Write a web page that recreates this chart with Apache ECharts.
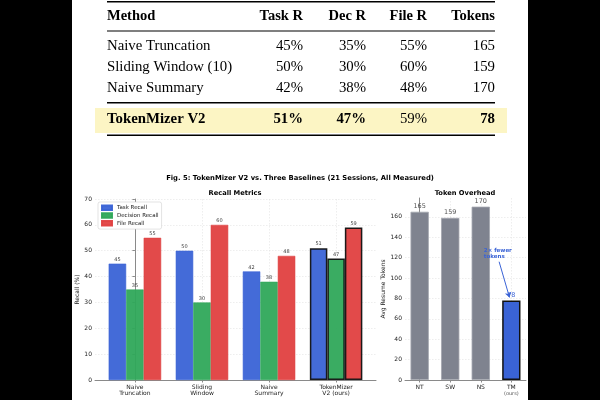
<!DOCTYPE html>
<html>
<head>
<meta charset="utf-8">
<script src="https://cdn.jsdelivr.net/npm/echarts@6/dist/echarts.min.js"></script>
<style>
  html, body { margin: 0; background: #000; }
  #chart { width: 600px; height: 400px; }
</style>
</head>
<body>
<div id="chart"></div>
<script>
  // data
  const tableHeaders = ['Method', 'Task R', 'Dec R', 'File R', 'Tokens']
  const methods = ['Naive Truncation', 'Sliding Window (10)', 'Naive Summary', 'TokenMizer V2']
  const taskRecall = [45, 50, 42, 51]
  const decisionRecall = [35, 30, 38, 47]
  const fileRecall = [55, 60, 48, 59]
  const tokens = [165, 159, 170, 78]
  const groupLabels = ['Naive\nTruncation', 'Sliding\nWindow', 'Naive\nSummary', 'TokenMizer\nV2 (ours)']
  const tokenLabels = ['NT', 'SW', 'NS', 'TM']

  const BLUE = '#3a63d6'
  const GREEN = '#2fa85a'
  const RED = '#e04040'
  const GRAY = '#7f838f'
  const SANS = 'DejaVu Sans'
  const SERIF = 'Liberation Serif'

  const chart = echarts.init(document.getElementById('chart'))

  // ---- table drawn with graphic elements ----
  const colRight = [0, 303, 366, 427, 495]
  const rowY = [46, 67, 88, 119]
  const tableEls = []
  tableEls.push({ type: 'rect', shape: { x: 72, y: 0, width: 456, height: 400 }, style: { fill: '#fff' }, z: -100 })
  tableEls.push({ type: 'rect', shape: { x: 95, y: 108, width: 412, height: 25 }, style: { fill: '#fcf5c4' }, z: -50 })
  ;[[1, 1.5], [30.5, 1], [102, 1.6], [134.5, 1.5]].forEach(r => {
    tableEls.push({ type: 'rect', shape: { x: 107, y: r[0], width: 388, height: r[1] }, style: { fill: '#000' } })
  })
  tableHeaders.forEach((h, c) => {
    tableEls.push({
      type: 'text',
      style: {
        text: h, x: c === 0 ? 107 : colRight[c], y: 16,
        align: c === 0 ? 'left' : 'right', verticalAlign: 'middle',
        font: 'bold 14.5px "' + SERIF + '"', fill: '#000'
      }
    })
  })
  methods.forEach((m, i) => {
    const last = i === methods.length - 1
    const cells = [m, taskRecall[i] + '%', decisionRecall[i] + '%', fileRecall[i] + '%', String(tokens[i])]
    cells.forEach((t, c) => {
      const bold = last && c !== 3
      tableEls.push({
        type: 'text',
        style: {
          text: t, x: c === 0 ? 107 : colRight[c], y: rowY[i],
          align: c === 0 ? 'left' : 'right', verticalAlign: 'middle',
          font: (bold ? 'bold ' : '') + '14.8px "' + SERIF + '"', fill: '#000'
        }
      })
    })
  })
  // figure + panel titles
  tableEls.push({ type: 'text', style: { text: 'Fig. 5: TokenMizer V2 vs. Three Baselines (21 Sessions, All Measured)', x: 300, y: 178, align: 'center', verticalAlign: 'middle', font: 'bold 6.8px "' + SANS + '"', fill: '#000' } })
  tableEls.push({ type: 'text', style: { text: 'Recall Metrics', x: 235, y: 193, align: 'center', verticalAlign: 'middle', font: 'bold 6.7px "' + SANS + '"', fill: '#000' } })
  tableEls.push({ type: 'text', style: { text: 'Token Overhead', x: 465, y: 193, align: 'center', verticalAlign: 'middle', font: 'bold 6.7px "' + SANS + '"', fill: '#000' } })

  const axisLineStyle = { color: '#8a8a8a', width: 1 }
  const gridLine = { show: true, lineStyle: { color: '#e2e2e2', type: [1.5, 1.5], width: 0.6 } }
  const tickLabel = { fontFamily: SANS, fontSize: 6, color: '#222' }

  function recallSeries(name, values, color) {
    return {
      name: name,
      type: 'bar',
      xAxisIndex: 0,
      yAxisIndex: 0,
      barWidth: 17.5,
      barGap: '0%',
      itemStyle: { color: color, borderColor: color, borderWidth: 0.6, opacity: 0.95 },
      label: { show: true, position: 'top', distance: 1.5, fontFamily: SANS, fontSize: 5, color: '#333' },
      data: values.map((v, i) => i === 3
        ? { value: [i, v], itemStyle: { borderColor: '#111', borderWidth: 1.5 } }
        : { value: [i, v] })
    }
  }

  const option = {
    backgroundColor: '#000',
    animation: false,
    textStyle: { fontFamily: SANS },
    graphic: { elements: tableEls },
    legend: {
      data: ['Task Recall', 'Decision Recall', 'File Recall'],
      orient: 'vertical',
      left: 98,
      top: 202,
      icon: 'rect',
      itemWidth: 10,
      itemHeight: 4.5,
      itemGap: 1.3,
      padding: [2.5, 3, 2.5, 3],
      backgroundColor: '#fff',
      borderColor: '#d0d0d0',
      borderWidth: 0.6,
      borderRadius: 2,
      textStyle: { fontFamily: SANS, fontSize: 5.5, lineHeight: 6.5, color: '#222' }
    },
    grid: [
      { left: 95, top: 199, width: 281, height: 181 },
      { left: 405, top: 198, width: 121, height: 182 }
    ],
    xAxis: [
      {
        gridIndex: 0, type: 'value', min: -0.595, max: 3.595,
        axisLine: { show: true, lineStyle: axisLineStyle },
        axisTick: { show: true, length: 2.5, customValues: [0, 1, 2, 3], lineStyle: axisLineStyle },
        axisLabel: Object.assign({ customValues: [0, 1, 2, 3], margin: 4, lineHeight: 6.5, formatter: v => groupLabels[v] }, tickLabel),
        splitLine: gridLine
      },
      {
        gridIndex: 1, type: 'value', min: -0.48, max: 3.48,
        axisLine: { show: true, lineStyle: axisLineStyle },
        axisTick: { show: true, length: 2.5, customValues: [0, 1, 2, 3], lineStyle: axisLineStyle },
        axisLabel: Object.assign({
          customValues: [0, 1, 2, 3], margin: 4, lineHeight: 6.5,
          formatter: v => v === 3 ? tokenLabels[v] + '\n{s|(ours)}' : tokenLabels[v],
          rich: { s: { fontFamily: SANS, fontSize: 5, color: '#555', lineHeight: 7 } }
        }, tickLabel),
        splitLine: gridLine
      }
    ],
    yAxis: [
      {
        gridIndex: 0, type: 'value', min: 0, max: 70, interval: 10,
        name: 'Recall (%)', nameLocation: 'middle', nameGap: 13,
        nameTextStyle: { fontFamily: SANS, fontSize: 6, color: '#222' },
        axisLine: { show: true, lineStyle: axisLineStyle },
        axisTick: { show: true, length: 2.5, lineStyle: axisLineStyle },
        axisLabel: Object.assign({ margin: 3 }, tickLabel),
        splitLine: gridLine
      },
      {
        gridIndex: 1, type: 'value', min: 0, max: 178.5, interval: 20,
        name: 'Avg Resume Tokens', nameLocation: 'middle', nameGap: 16,
        nameTextStyle: { fontFamily: SANS, fontSize: 6, color: '#222' },
        axisLine: { show: true, lineStyle: axisLineStyle },
        axisTick: { show: true, length: 2.5, lineStyle: axisLineStyle },
        axisLabel: Object.assign({ margin: 3, showMaxLabel: false }, tickLabel),
        splitLine: Object.assign({ showMaxLine: false }, gridLine)
      }
    ],
    series: [
      recallSeries('Task Recall', taskRecall, BLUE),
      recallSeries('Decision Recall', decisionRecall, GREEN),
      recallSeries('File Recall', fileRecall, RED),
      {
        name: 'Tokens',
        type: 'bar',
        xAxisIndex: 1,
        yAxisIndex: 1,
        barWidth: 18.3,
        itemStyle: { color: GRAY, borderColor: '#a3a6ae', borderWidth: 0.8 },
        label: { show: true, position: 'top', distance: 2, fontFamily: SANS, fontSize: 6.5, color: '#555' },
        data: tokens.map((v, i) => i === 3
          ? { value: [i, v], itemStyle: { color: BLUE, borderColor: '#111', borderWidth: 1.5 }, label: { color: BLUE } }
          : { value: [i, v] }),
        markLine: {
          silent: true,
          symbol: ['none', 'arrow'],
          symbolSize: 5,
          lineStyle: { color: BLUE, width: 1, type: 'solid' },
          label: { show: false },
          data: [[{ coord: [2.6, 116] }, { coord: [2.94, 81] }]]
        },
        markPoint: {
          silent: true,
          symbol: 'circle',
          symbolSize: 0,
          label: {
            show: true, position: 'right', distance: 0,
            formatter: '2× fewer\ntokens',
            fontFamily: SANS, fontSize: 5.5, fontWeight: 'bold', color: BLUE, lineHeight: 6.5, align: 'left'
          },
          data: [{ coord: [2.1, 124] }]
        }
      }
    ]
  }

  chart.setOption(option)
</script>
</body>
</html>
